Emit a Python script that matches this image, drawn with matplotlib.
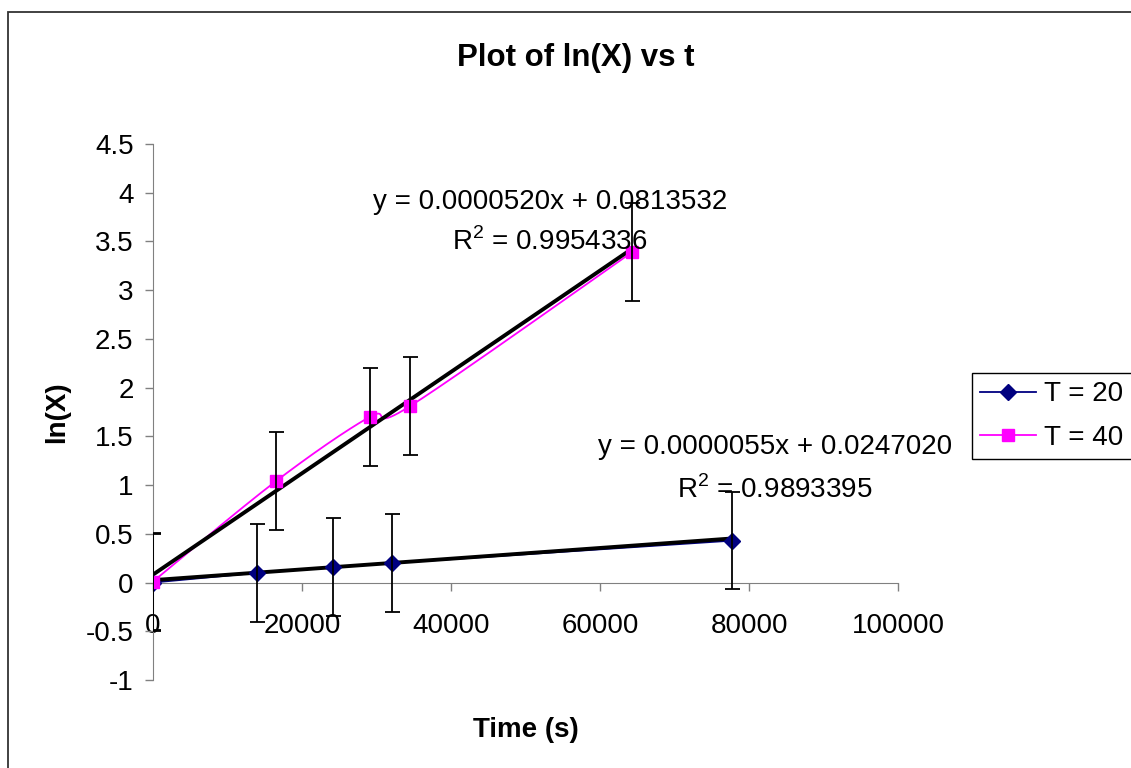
import numpy as np
import matplotlib
matplotlib.use('Agg')
import matplotlib.pyplot as plt
from matplotlib.patches import Rectangle
from matplotlib.lines import Line2D

plt.rcParams['font.family'] = ['Liberation Sans', 'DejaVu Sans']
plt.rcParams['axes.unicode_minus'] = False
plt.rcParams['mathtext.fontset'] = 'custom'
plt.rcParams['mathtext.rm'] = 'Liberation Sans'

# values
t20 = [0, 14000, 24100, 32100, 77700]
lnx20 = [0.0, 0.10, 0.16, 0.20, 0.43]
t40 = [0, 16500, 29100, 34500, 64300]
lnx40 = [0.01, 1.04, 1.70, 1.81, 3.39]
err = 0.5

# linear trendlines as printed on the chart: slope, intercept, r^2
fit20 = (0.0000055, 0.0247020, 0.9893395)
fit40 = (0.0000520, 0.0813532, 0.9954336)

series_names = ['T = 20', 'T = 40']
xticks = [0, 20000, 40000, 60000, 80000, 100000]
yticks = [-1, -0.5, 0, 0.5, 1, 1.5, 2, 2.5, 3, 3.5, 4, 4.5]

W, H = 1131, 768


def smooth(x, y, xr, yr, n=40):
  # excel-like smoothed line (catmull-rom bezier), done in screen-ish units
  px = np.asarray(x, float) / xr
  py = np.asarray(y, float) / yr
  pts = np.column_stack([px, py])
  pts = np.vstack([pts[0], pts, pts[-1]])
  out = []
  t = np.linspace(0, 1, n)[:, None]
  for i in range(1, len(pts) - 2):
    p0, p1, p2, p3 = pts[i - 1], pts[i], pts[i + 1], pts[i + 2]
    b1 = p1 + (p2 - p0) / 6
    b2 = p2 - (p3 - p1) / 6
    seg = ((1 - t) ** 3) * p1 + 3 * ((1 - t) ** 2) * t * b1 + 3 * (1 - t) * t ** 2 * b2 + t ** 3 * p2
    out.append(seg)
  out = np.vstack(out)
  return out[:, 0] * xr, out[:, 1] * yr


fig = plt.figure(figsize=(W / 100, H / 100), dpi=100)
ax = fig.add_axes([153 / W, 1 - 680 / H, 745 / W, 536 / H])
ax.set_xlim(0, 100000)
ax.set_ylim(-1, 4.5)

navy = '#000080'
pink = '#FF00FF'
grey = '#808080'

# data lines
ax.plot(t20, lnx20, color=navy, lw=1.3, zorder=2)
sx, sy = smooth(t40, lnx40, 100000 / 745, 1 / 97.5)
ax.plot(sx, sy, color=pink, lw=1.3, zorder=2)

# trendlines
for xs, fit in [(t20, fit20), (t40, fit40)]:
  xx = np.array([0, max(xs)])
  ax.plot(xx, fit[0] * xx + fit[1], color='black', lw=2.8, zorder=3,
      solid_capstyle='butt')

# markers and error bars
ax.errorbar(t20, lnx20, yerr=err, fmt='none', ecolor='black',
      elinewidth=1.3, capsize=5.4, capthick=1.3, zorder=5)
ax.errorbar(t40, lnx40, yerr=err, fmt='none', ecolor='black',
      elinewidth=1.3, capsize=5.4, capthick=1.3, zorder=5)
ax.plot(t20, lnx20, ls='none', marker='D', ms=8, color=navy, zorder=4)
ax.plot(t40, lnx40, ls='none', marker='s', ms=8, color=pink, zorder=4)

# axes styling
for s in ['top', 'right']:
  ax.spines[s].set_visible(False)
ax.spines['bottom'].set_position(('data', 0))
ax.spines['bottom'].set_color(grey)
ax.spines['left'].set_color(grey)
ax.set_xticks(xticks)
ax.set_xticklabels([str(v) for v in xticks])
ax.set_yticks(yticks)
ax.set_yticklabels(['{:g}'.format(v) for v in yticks])
ax.tick_params(direction='out', length=6, width=1, color=grey, labelsize=20)
ax.tick_params(axis='x', pad=16)
ax.tick_params(axis='y', pad=8)

ax.set_xlabel('Time (s)', fontsize=20, fontweight='bold', va='center')
ax.xaxis.set_label_coords(0.5, (680 - 730) / 536)
ax.set_ylabel('ln(X)', fontsize=20, fontweight='bold', va='center')
ax.yaxis.set_label_coords((57 - 153) / 745, 0.5)

fig.text(576 / W, 1 - 58 / H, 'Plot of ln(X) vs t', ha='center', va='center',
     fontsize=22.5, fontweight='bold')

# trendline labels
def fit_text(fit, x, y1, y2):
  fig.text(x / W, 1 - y1 / H, 'y = {:.7f}x + {:.7f}'.format(fit[0], fit[1]),
       ha='center', va='center', fontsize=20, zorder=6)
  fig.text(x / W, 1 - y2 / H, 'R$^2$ = {:.7f}'.format(fit[2]),
       ha='center', va='center', fontsize=20, zorder=6)

fit_text(fit40, 550, 202, 242)
fit_text(fit20, 775, 447, 490)

handles = [
  Line2D([], [], color=navy, lw=1.3, marker='D', ms=8),
  Line2D([], [], color=pink, lw=1.3, marker='s', ms=8),
]
leg = fig.legend(handles, series_names, loc='upper left',
         bbox_to_anchor=(972 / W, 1 - 373 / H), fontsize=20,
         frameon=True, fancybox=False, framealpha=1, edgecolor='black',
         handlelength=2.0, handletextpad=0.3, labelspacing=0.62,
         borderpad=0.3, borderaxespad=0)
leg.get_frame().set_linewidth(1)

# chart area border
fig.patches.append(Rectangle((8 / W, -0.1), 1.2, 1 - 12 / H + 0.1,
               transform=fig.transFigure, fill=False,
               edgecolor='#333333', lw=1.3))

fig.savefig('out.png', dpi=100)
